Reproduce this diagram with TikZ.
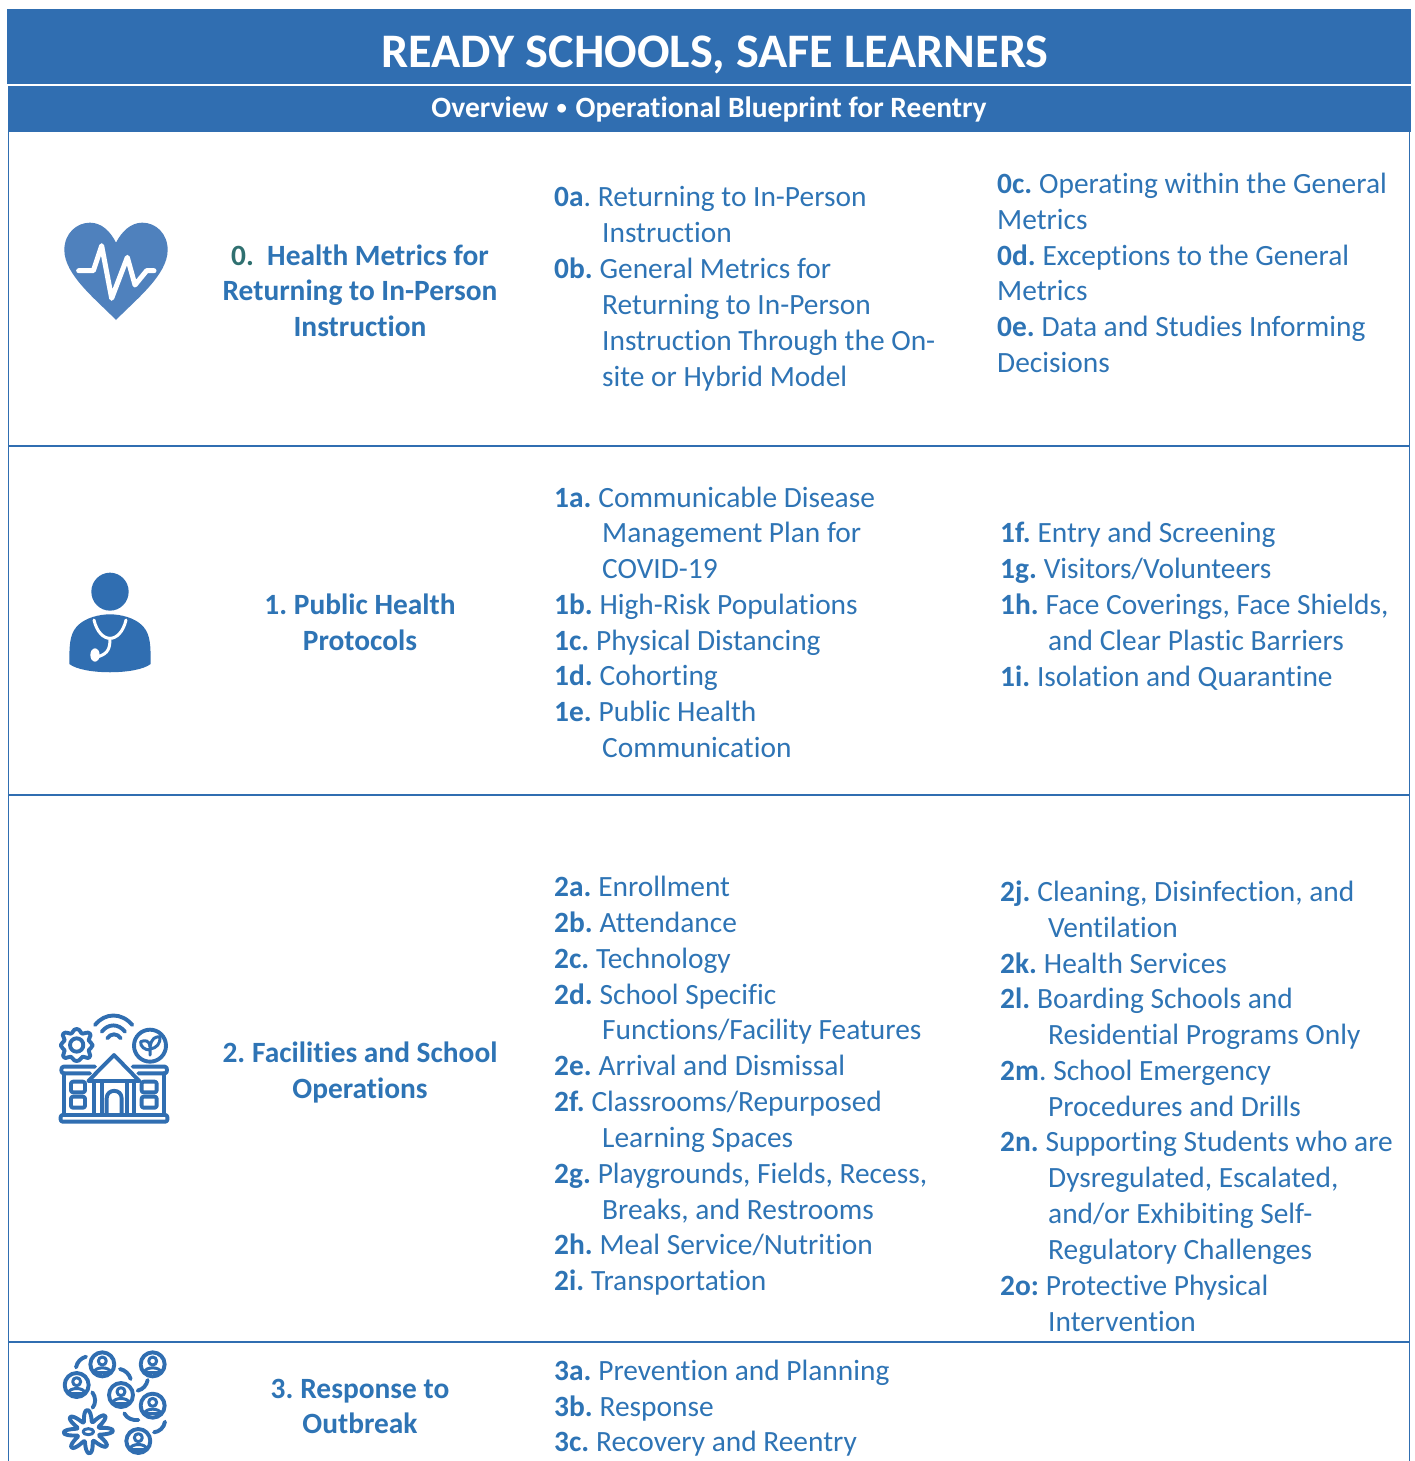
\documentclass[tikz,border=0pt]{standalone}
\usepackage{fontspec}
\setmainfont{Carlito}[Ligatures=NoCommon]
\definecolor{hdr}{HTML}{306EB1}
\definecolor{txtblue}{HTML}{2E74B5}
\definecolor{teal0}{HTML}{2F7070}
\definecolor{heartblue}{HTML}{4F81BD}
\newcounter{ln}
\newcommand{\B}[1]{\textbf{#1}\kern-2pt\relax}
\newcommand{\Bp}[1]{\textbf{#1}.\kern-2pt\relax}
\newcommand{\Ln}[3]{\stepcounter{ln}\node[bodyline] (t\theln) at (#1,#2) {#3};}
\newcommand{\Lb}[3]{\stepcounter{ln}\node[headline] (t\theln) at (#1,#2) {#3};}
\tikzset{
  bodyline/.style={anchor=base west,inner sep=0pt,yshift=-1.4pt,text=txtblue,font=\fontsize{29.4}{34}\selectfont},
  headline/.style={anchor=base,inner sep=0pt,yshift=-1.4pt,text=txtblue,font=\fontsize{29.4}{34}\selectfont\bfseries},
  rule/.style={draw=hdr,line width=1.6pt},
  iconline/.style={draw=hdr,line width=3.9pt,line cap=round,line join=round},
  iconin/.style={draw=hdr,line width=3pt,line cap=round,line join=round},
  zoomicon/.style={x=0.33333pt,y=-0.33333pt},
  person/.pic={
    \draw[iconline] (0,0) circle (36);
    \draw[iconin] (0,-10) circle (12);
    \draw[iconin] (-25,24) .. controls (-22,6) and (22,6) .. (25,24);
    \draw[iconin] (-25,24) -- (25,24);
  }
}
\begin{document}
\begin{tikzpicture}[x=1pt,y=-1pt]
\useasboundingbox (0,0) rectangle (1414,1461);
\fill[white] (0,0) rectangle (1414,1461);
% header bands
\fill[hdr] (7,9) rectangle (1411,84);
\fill[hdr] (8,86.5) rectangle (1411,132);
\node[anchor=base,inner sep=0pt,text=white,font=\fontsize{48.2}{56}\selectfont\bfseries] (title) at (715,68) {READY SCHOOLS, SAFE LEARNERS};
\node[anchor=base,inner sep=0pt,text=white,font=\fontsize{29.5}{34}\selectfont\bfseries] (sub) at (709,118) {Overview\kern1.5pt\ \raisebox{0.13em}{\scalebox{0.7}{•}}\ \kern2pt Operational Blueprint for Reentry};
% table rules
\draw[rule] (8.5,132) -- (8.5,1461);
\draw[rule] (1409.5,132) -- (1409.5,1461);
\draw[rule] (8,446) -- (1410,446);
\draw[rule] (8,795) -- (1410,795);
\draw[rule] (8,1342) -- (1410,1342);
% row labels
\Lb{360}{264}{\textcolor{teal0}{0.}\ \ Health Metrics for}
\Lb{360}{299}{Returning to In-Person}
\Lb{360}{335}{Instruction}
\Lb{360}{613}{\B{1.} Public Health}
\Lb{360}{649}{Protocols}
\Lb{360}{1061}{\B{2.} Facilities and School}
\Lb{360}{1097}{Operations}
\Lb{360}{1397}{\B{3.} Response to}
\Lb{360}{1432}{Outbreak}
% row 0
\Ln{554}{205}{\Bp{0a} Returning to In-Person}
\Ln{602}{241}{Instruction}
\Ln{554}{277}{\B{0b.} General Metrics for}
\Ln{602}{313}{Returning to In-Person}
\Ln{602}{349}{Instruction Through the On-}
\Ln{602}{385}{site or Hybrid Model}
\Ln{997}{192}{\B{0c.} Operating within the General}
\Ln{997}{228}{Metrics}
\Ln{997}{264}{\B{0d.} Exceptions to the General}
\Ln{997}{299}{Metrics}
\Ln{997}{335}{\B{0e.} Data and Studies Informing}
\Ln{997}{371}{Decisions}
% row 1
\Ln{554}{506}{\B{1a.} Communicable Disease}
\Ln{602}{541}{Management Plan for}
\Ln{602}{577}{COVID-19}
\Ln{554}{613}{\B{1b.} High-Risk Populations}
\Ln{554}{649}{\B{1c.} Physical Distancing}
\Ln{554}{684}{\B{1d.} Cohorting}
\Ln{554}{720}{\B{1e.} Public Health}
\Ln{602}{756}{Communication}
\Ln{1000}{541}{\B{1f.} Entry and Screening}
\Ln{1000}{577}{\B{1g.} Visitors/Volunteers}
\Ln{1000}{613}{\B{1h.} Face Coverings, Face Shields,}
\Ln{1048}{649}{and Clear Plastic Barriers}
\Ln{1000}{685}{\B{1i.} Isolation and Quarantine}
% row 2
\Ln{554}{895}{\B{2a.} Enrollment}
\Ln{554}{931}{\B{2b.} Attendance}
\Ln{554}{967}{\B{2c.} Technology}
\Ln{554}{1003}{\B{2d.} School Specific}
\Ln{602}{1038}{Functions/Facility Features}
\Ln{554}{1074}{\B{2e.} Arrival and Dismissal}
\Ln{554}{1110}{\B{2f.} Classrooms/Repurposed}
\Ln{602}{1146}{Learning Spaces}
\Ln{554}{1182}{\B{2g.} Playgrounds, Fields, Recess,}
\Ln{602}{1218}{Breaks, and Restrooms}
\Ln{554}{1253}{\B{2h.} Meal Service/Nutrition}
\Ln{554}{1289}{\B{2i.} Transportation}
\Ln{1000}{900}{\B{2j.} Cleaning, Disinfection, and}
\Ln{1048}{936}{Ventilation}
\Ln{1000}{972}{\B{2k.} Health Services}
\Ln{1000}{1007}{\B{2l.} Boarding Schools and}
\Ln{1048}{1043}{Residential Programs Only}
\Ln{1000}{1079}{\Bp{2m} School Emergency}
\Ln{1048}{1115}{Procedures and Drills}
\Ln{1000}{1150}{\B{2n.} Supporting Students who are}
\Ln{1048}{1186}{Dysregulated, Escalated,}
\Ln{1048}{1222}{and/or Exhibiting Self-}
\Ln{1048}{1258}{Regulatory Challenges}
\Ln{1000}{1294}{\B{2o:} Protective Physical}
\Ln{1048}{1330}{Intervention}
% row 3
\Ln{554}{1379}{\B{3a.} Prevention and Planning}
\Ln{554}{1415}{\B{3b.} Response}
\Ln{554}{1450}{\B{3c.} Recovery and Reentry}
% heart icon
\begin{scope}[shift={(40,200)},zoomicon]
\fill[heartblue] (228,360) .. controls (170,300) and (73,225) .. (73,150)
  .. controls (73,100) and (110,68) .. (150,68)
  .. controls (185,68) and (212,95) .. (228,128)
  .. controls (245,95) and (272,68) .. (307,68)
  .. controls (347,68) and (383,100) .. (383,150)
  .. controls (383,225) and (286,300) .. (228,360) -- cycle;
\draw[white,line width=5pt,line join=round,line cap=round] (116,212) -- (160,212) -- (185,137) -- (215,295) -- (262,172) -- (285,255) -- (320,212) -- (342,212);
\end{scope}
% doctor icon
\begin{scope}[shift={(40,560)},zoomicon]
\fill[hdr] (210,95) ellipse (56 and 57);
\fill[hdr] (88,312) .. controls (88,260) and (88,225) .. (110,200)
  .. controls (135,172) and (180,163) .. (210,163)
  .. controls (240,163) and (285,172) .. (310,200)
  .. controls (332,225) and (332,260) .. (332,312)
  .. controls (290,345) and (130,345) .. (88,312) -- cycle;
\draw[white,line width=3pt,line cap=round] (162,180) .. controls (170,215) and (190,235) .. (210,235) .. controls (230,235) and (250,215) .. (258,180);
\draw[white,line width=3pt,line cap=round] (210,235) .. controls (210,265) and (205,280) .. (175,290);
\fill[white] (165,285) ellipse (14 and 20);
\end{scope}
% school icon
\begin{scope}[shift={(40,1005)},zoomicon]
\draw[iconline] (165,60) .. controls (195,22) and (245,22) .. (277,60);
\draw[iconline] (185,80) .. controls (205,55) and (235,55) .. (255,80);
\draw[iconline] (202,100) .. controls (212,84) and (232,84) .. (242,100);
\draw[iconline] (110,120) circle (20);
\draw[iconline] (110,72) .. controls (122,72) and (120,85) .. (128,86)
  .. controls (136,87) and (142,78) .. (150,86)
  .. controls (156,93) and (144,98) .. (146,106)
  .. controls (148,114) and (158,112) .. (158,121)
  .. controls (158,130) and (148,128) .. (146,136)
  .. controls (144,144) and (156,150) .. (148,157)
  .. controls (141,163) and (136,153) .. (128,155)
  .. controls (120,157) and (122,168) .. (110,168)
  .. controls (98,168) and (100,157) .. (92,155)
  .. controls (84,153) and (79,163) .. (72,157)
  .. controls (64,150) and (76,144) .. (74,136)
  .. controls (72,128) and (62,130) .. (62,121)
  .. controls (62,112) and (72,114) .. (74,106)
  .. controls (76,98) and (64,93) .. (70,86)
  .. controls (78,78) and (84,87) .. (92,86)
  .. controls (100,85) and (98,72) .. (110,72) -- cycle;
\draw[iconline] (330,122) circle (48);
\draw[iconin] (330,150) -- (330,125) .. controls (328,105) and (315,105) .. (302,110) .. controls (300,125) and (315,135) .. (330,135);
\draw[iconin] (330,125) .. controls (335,100) and (345,95) .. (360,95) .. controls (362,115) and (350,130) .. (330,132);
\draw[iconline] (165,185) -- (70,185) .. controls (62,185) and (62,205) .. (70,205) -- (150,205);
\draw[iconline] (278,185) -- (375,185) .. controls (383,185) and (383,205) .. (375,205) -- (295,205);
\draw[iconline] (145,228) -- (222,150) -- (298,228) -- cycle;
\foreach \cx in {163,185,260,282} {\draw[iconline] (\cx,228) -- (\cx,330);}
\draw[iconline] (200,330) -- (200,280) .. controls (200,250) and (245,250) .. (245,280) -- (245,330);
\draw[iconline] (72,205) -- (72,330);
\draw[iconline] (372,205) -- (372,330);
\draw[iconline,rounded corners=2pt] (93,230) rectangle (135,262);
\draw[iconline,rounded corners=2pt] (93,275) rectangle (135,308);
\draw[iconline,rounded corners=2pt] (305,230) rectangle (350,262);
\draw[iconline,rounded corners=2pt] (305,275) rectangle (350,308);
\draw[iconline,rounded corners=2pt] (62,330) rectangle (382,350);
\end{scope}
% outbreak icon
\begin{scope}[shift={(40,1335)},zoomicon]
\foreach \px/\py in {187/88,338/88,110/150,243/180,338/212,295/318}
  {\pic at (\px,\py) {person};}
\draw[iconline] (108,97) .. controls (112,80) and (122,70) .. (138,65);
\draw[iconline] (240,102) .. controls (255,105) and (268,117) .. (272,132);
\draw[iconline] (157,172) .. controls (168,187) and (168,205) .. (158,218);
\draw[iconline] (293,167) .. controls (310,163) and (320,150) .. (323,135);
\draw[iconline] (253,235) .. controls (260,250) and (278,257) .. (295,255);
\draw[iconline] (342,292) .. controls (358,290) and (372,278) .. (375,260);
\draw[iconline] plot[smooth cycle,samples=64,domain=0:354.375,variable=\t]
  ({145+1.08*(50+19*cos(8*\t+20))*cos(\t)},{290+0.95*(50+19*cos(8*\t+20))*sin(\t)});
\draw[iconin] (145,290) ellipse (16 and 9);
\end{scope}
\end{tikzpicture}
\end{document}
